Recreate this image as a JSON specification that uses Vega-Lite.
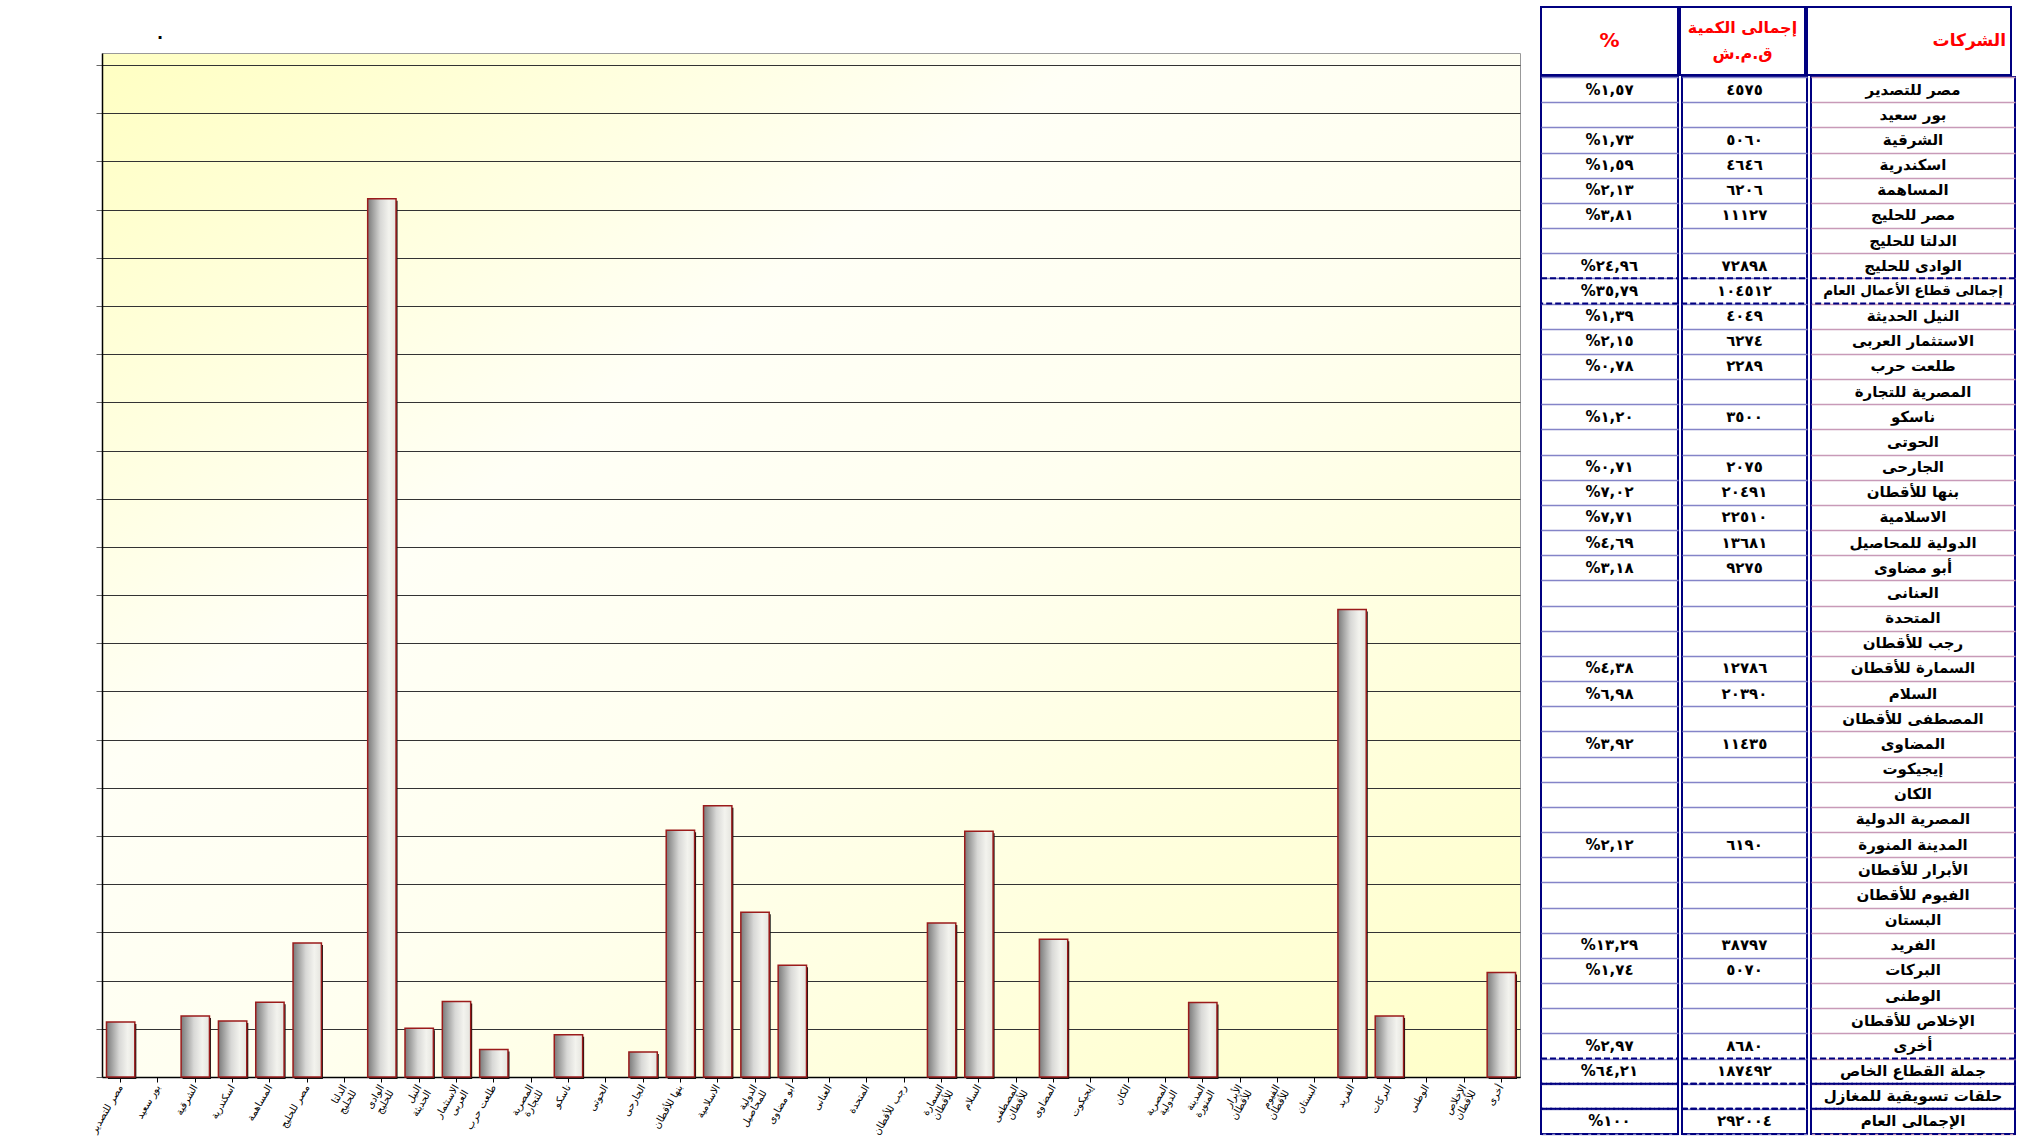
{
  "$schema": "https://vega.github.io/schema/vega-lite/v6.json",
  "padding": {"left": 88, "top": 6, "right": 0, "bottom": 0},
  "background": "#ffffff",
  "spacing": 18,
  "config": {
    "font": "DejaVu Sans",
    "view": {"stroke": null},
    "concat": {"spacing": 0}
  },
  "datasets": {
    "rows": [
      {"i": 1, "name": "مصر للتصدير", "qty": 4575, "qtyTxt": "٤٥٧٥", "pctTxt": "%١,٥٧", "type": "co"},
      {"i": 2, "name": "بور سعيد", "qty": null, "qtyTxt": "", "pctTxt": "", "type": "co"},
      {"i": 3, "name": "الشرقية", "qty": 5060, "qtyTxt": "٥٠٦٠", "pctTxt": "%١,٧٣", "type": "co"},
      {"i": 4, "name": "اسكندرية", "qty": 4646, "qtyTxt": "٤٦٤٦", "pctTxt": "%١,٥٩", "type": "co"},
      {"i": 5, "name": "المساهمة", "qty": 6206, "qtyTxt": "٦٢٠٦", "pctTxt": "%٢,١٣", "type": "co"},
      {"i": 6, "name": "مصر للحليج", "qty": 11127, "qtyTxt": "١١١٢٧", "pctTxt": "%٣,٨١", "type": "co"},
      {"i": 7, "name": "الدلتا للحليج", "qty": null, "qtyTxt": "", "pctTxt": "", "type": "co"},
      {"i": 8, "name": "الوادى للحليج", "qty": 72898, "qtyTxt": "٧٢٨٩٨", "pctTxt": "%٢٤,٩٦", "type": "co"},
      {"i": 9, "name": "إجمالى قطاع الأعمال العام", "qty": 104512, "qtyTxt": "١٠٤٥١٢", "pctTxt": "%٣٥,٧٩", "type": "sub"},
      {"i": 10, "name": "النيل الحديثة", "qty": 4049, "qtyTxt": "٤٠٤٩", "pctTxt": "%١,٣٩", "type": "co"},
      {"i": 11, "name": "الاستثمار العربى", "qty": 6274, "qtyTxt": "٦٢٧٤", "pctTxt": "%٢,١٥", "type": "co"},
      {"i": 12, "name": "طلعت حرب", "qty": 2289, "qtyTxt": "٢٢٨٩", "pctTxt": "%٠,٧٨", "type": "co"},
      {"i": 13, "name": "المصرية للتجارة", "qty": null, "qtyTxt": "", "pctTxt": "", "type": "co"},
      {"i": 14, "name": "ناسكو", "qty": 3500, "qtyTxt": "٣٥٠٠", "pctTxt": "%١,٢٠", "type": "co"},
      {"i": 15, "name": "الحوتى", "qty": null, "qtyTxt": "", "pctTxt": "", "type": "co"},
      {"i": 16, "name": "الجارحى", "qty": 2075, "qtyTxt": "٢٠٧٥", "pctTxt": "%٠,٧١", "type": "co"},
      {"i": 17, "name": "بنها للأقطان", "qty": 20491, "qtyTxt": "٢٠٤٩١", "pctTxt": "%٧,٠٢", "type": "co"},
      {"i": 18, "name": "الاسلامية", "qty": 22510, "qtyTxt": "٢٢٥١٠", "pctTxt": "%٧,٧١", "type": "co"},
      {"i": 19, "name": "الدولية للمحاصيل", "qty": 13681, "qtyTxt": "١٣٦٨١", "pctTxt": "%٤,٦٩", "type": "co"},
      {"i": 20, "name": "أبو مضاوى", "qty": 9275, "qtyTxt": "٩٢٧٥", "pctTxt": "%٣,١٨", "type": "co"},
      {"i": 21, "name": "العنانى", "qty": null, "qtyTxt": "", "pctTxt": "", "type": "co"},
      {"i": 22, "name": "المتحدة", "qty": null, "qtyTxt": "", "pctTxt": "", "type": "co"},
      {"i": 23, "name": "رجب للأقطان", "qty": null, "qtyTxt": "", "pctTxt": "", "type": "co"},
      {"i": 24, "name": "السمارة للأقطان", "qty": 12786, "qtyTxt": "١٢٧٨٦", "pctTxt": "%٤,٣٨", "type": "co"},
      {"i": 25, "name": "السلام", "qty": 20390, "qtyTxt": "٢٠٣٩٠", "pctTxt": "%٦,٩٨", "type": "co"},
      {"i": 26, "name": "المصطفى للأقطان", "qty": null, "qtyTxt": "", "pctTxt": "", "type": "co"},
      {"i": 27, "name": "المضاوى", "qty": 11435, "qtyTxt": "١١٤٣٥", "pctTxt": "%٣,٩٢", "type": "co"},
      {"i": 28, "name": "إيجيكوت", "qty": null, "qtyTxt": "", "pctTxt": "", "type": "co"},
      {"i": 29, "name": "الكان", "qty": null, "qtyTxt": "", "pctTxt": "", "type": "co"},
      {"i": 30, "name": "المصرية الدولية", "qty": null, "qtyTxt": "", "pctTxt": "", "type": "co"},
      {"i": 31, "name": "المدينة المنورة", "qty": 6190, "qtyTxt": "٦١٩٠", "pctTxt": "%٢,١٢", "type": "co"},
      {"i": 32, "name": "الأبرار للأقطان", "qty": null, "qtyTxt": "", "pctTxt": "", "type": "co"},
      {"i": 33, "name": "الفيوم للأقطان", "qty": null, "qtyTxt": "", "pctTxt": "", "type": "co"},
      {"i": 34, "name": "البستان", "qty": null, "qtyTxt": "", "pctTxt": "", "type": "co"},
      {"i": 35, "name": "الفريد", "qty": 38797, "qtyTxt": "٣٨٧٩٧", "pctTxt": "%١٣,٢٩", "type": "co"},
      {"i": 36, "name": "البركات", "qty": 5070, "qtyTxt": "٥٠٧٠", "pctTxt": "%١,٧٤", "type": "co"},
      {"i": 37, "name": "الوطنى", "qty": null, "qtyTxt": "", "pctTxt": "", "type": "co"},
      {"i": 38, "name": "الإخلاص للأقطان", "qty": null, "qtyTxt": "", "pctTxt": "", "type": "co"},
      {"i": 39, "name": "أخرى", "qty": 8680, "qtyTxt": "٨٦٨٠", "pctTxt": "%٢,٩٧", "type": "co"},
      {"i": 40, "name": "جملة القطاع الخاص", "qty": 187492, "qtyTxt": "١٨٧٤٩٢", "pctTxt": "%٦٤,٢١", "type": "sum"},
      {"i": 41, "name": "حلقات تسويقية للمغازل", "qty": null, "qtyTxt": "", "pctTxt": "", "type": "sum"},
      {"i": 42, "name": "الإجمالى العام", "qty": 292004, "qtyTxt": "٢٩٢٠٠٤", "pctTxt": "%١٠٠", "type": "sum"}
    ]
  },
  "hconcat": [
    {
      "spacing": 0,
      "vconcat": [
        {
          "width": 1418, "height": 45,
          "data": {"values": [{}]},
          "mark": {"type": "text", "text": ".", "fontSize": 16, "fontWeight": "bold", "color": "#000000", "dx": -651, "dy": 4},
          "encoding": {}
        },
        {
          "width": 1418,
          "height": 1024,
          "view": {
            "stroke": "#999999",
            "strokeWidth": 1,
            "fill": {"gradient": "linear", "x1": 0, "y1": 0, "x2": 1, "y2": 1, "stops": [
              {"offset": 0, "color": "#FFFFC2"},
              {"offset": 0.35, "color": "#FFFFF6"},
              {"offset": 0.55, "color": "#FFFFF0"},
              {"offset": 1, "color": "#FFFFC8"}
            ]}
          },
          "data": {"name": "rows"},
          "transform": [{"filter": "datum.type == 'co'"}],
          "encoding": {
            "x": {
              "field": "name", "type": "nominal", "sort": null,
              "scale": {"paddingInner": 0.24, "paddingOuter": 0.12},
              "axis": {"title": null, "labelAngle": -60, "labelFontSize": 10, "labelColor": "#000000", "tickSize": 5, "tickColor": "#000000", "domainColor": "#000000", "domainWidth": 1.5, "labelPadding": 3, "labelLimit": 140, "labelLineHeight": 11,
                "labelExpr": "length(datum.label) > 12 ? split(datum.label, ' ') : datum.label"}
            },
            "y": {
              "field": "qty", "type": "quantitative",
              "scale": {"domain": [0, 85000], "nice": false},
              "axis": {"title": null, "labels": false, "grid": true, "gridColor": "#333333", "gridWidth": 1,
                "values": [0, 4000, 8000, 12000, 16000, 20000, 24000, 28000, 32000, 36000, 40000, 44000, 48000, 52000, 56000, 60000, 64000, 68000, 72000, 76000, 80000, 84000],
                "tickSize": 6, "tickColor": "#666666", "domainColor": "#000000", "domainWidth": 1.5}
            }
          },
          "layer": [
            {"mark": {"type": "bar", "color": "#111111", "xOffset": 1.5, "yOffset": 2, "invalid": "show"}},
            {"mark": {"type": "bar", "invalid": "show", "stroke": "#9B1B1B", "strokeWidth": 1.5,
              "color": {"gradient": "linear", "x1": 0, "y1": 0, "x2": 1, "y2": 0, "stops": [
                {"offset": 0, "color": "#7A7A7A"},
                {"offset": 0.45, "color": "#D8D8D6"},
                {"offset": 0.75, "color": "#F3F3EE"},
                {"offset": 1, "color": "#E4E4DE"}
              ]}},
             "encoding": {"strokeOpacity": {"condition": {"test": "datum.qty === null", "value": 0}, "value": 1}}}
          ]
        }
      ]
    },
    {
      "spacing": 0,
      "vconcat": [
        {
          "spacing": 0,
          "hconcat": [
            {"width": 137, "height": 68, "view": {"stroke": "#000080", "strokeWidth": 2}, "data": {"values": [{}]},
             "mark": {"type": "text", "text": "%", "color": "#FF0000", "fontSize": 20, "fontWeight": "bold"}, "encoding": {}},
            {"width": 125, "height": 68, "view": {"stroke": "#000080", "strokeWidth": 2}, "data": {"values": [{}]},
             "mark": {"type": "text", "text": ["إجمالى الكمية", "ق.م.ش"], "lineHeight": 26, "dy": -13, "color": "#FF0000", "fontSize": 16, "fontWeight": "bold"}, "encoding": {}},
            {"width": 204, "height": 68, "view": {"stroke": "#000080", "strokeWidth": 2}, "data": {"values": [{}]},
             "mark": {"type": "text", "text": "الشركات", "align": "right", "dx": 97, "color": "#FF0000", "fontSize": 17, "fontWeight": "bold"}, "encoding": {}}
          ]
        },
        {
          "spacing": 0,
          "hconcat": [
            {
              "width": 137, "height": 1057,
              "view": {"stroke": "#000080", "strokeWidth": 2},
              "data": {"name": "rows"},
              "encoding": {"y": {"field": "i", "type": "ordinal", "scale": {"paddingInner": 0, "paddingOuter": 0},
                "axis": {"title": null, "labels": false, "ticks": false, "domain": false, "grid": true, "tickBand": "extent", "gridColor": "#8484C8", "gridWidth": 1.5}}},
              "layer": [
                {"mark": {"type": "text", "fontSize": 15, "fontWeight": "bold", "color": "#000000"}, "encoding": {"text": {"field": "pctTxt"}}},
                {"transform": [{"filter": "datum.type != 'co'"}], "mark": {"type": "rect", "filled": false, "stroke": "#000080", "strokeWidth": 2, "strokeDash": [6, 3]}}
              ]
            },
            {
              "width": 125, "height": 1057,
              "view": {"stroke": "#000080", "strokeWidth": 2},
              "data": {"name": "rows"},
              "encoding": {"y": {"field": "i", "type": "ordinal", "scale": {"paddingInner": 0, "paddingOuter": 0},
                "axis": {"title": null, "labels": false, "ticks": false, "domain": false, "grid": true, "tickBand": "extent", "gridColor": "#8484C8", "gridWidth": 1.5}}},
              "layer": [
                {"mark": {"type": "text", "fontSize": 15, "fontWeight": "bold", "color": "#000000"}, "encoding": {"text": {"field": "qtyTxt"}}},
                {"transform": [{"filter": "datum.type != 'co'"}], "mark": {"type": "rect", "filled": false, "stroke": "#000080", "strokeWidth": 2, "strokeDash": [6, 3]}}
              ]
            },
            {
              "width": 204, "height": 1057,
              "view": {"stroke": "#000080", "strokeWidth": 2},
              "data": {"name": "rows"},
              "encoding": {"y": {"field": "i", "type": "ordinal", "scale": {"paddingInner": 0, "paddingOuter": 0},
                "axis": {"title": null, "labels": false, "ticks": false, "domain": false, "grid": true, "tickBand": "extent", "gridColor": "#C89AB8", "gridWidth": 1.5}}},
              "layer": [
                {"mark": {"type": "text", "fontWeight": "bold", "color": "#000000"},
                 "encoding": {"text": {"field": "name"}, "size": {"condition": {"test": "datum.type == 'sub'", "value": 13.5}, "value": 15}}},
                {"transform": [{"filter": "datum.type != 'co'"}], "mark": {"type": "rect", "filled": false, "stroke": "#000080", "strokeWidth": 2, "strokeDash": [6, 3]}}
              ]
            }
          ]
        }
      ]
    }
  ]
}
